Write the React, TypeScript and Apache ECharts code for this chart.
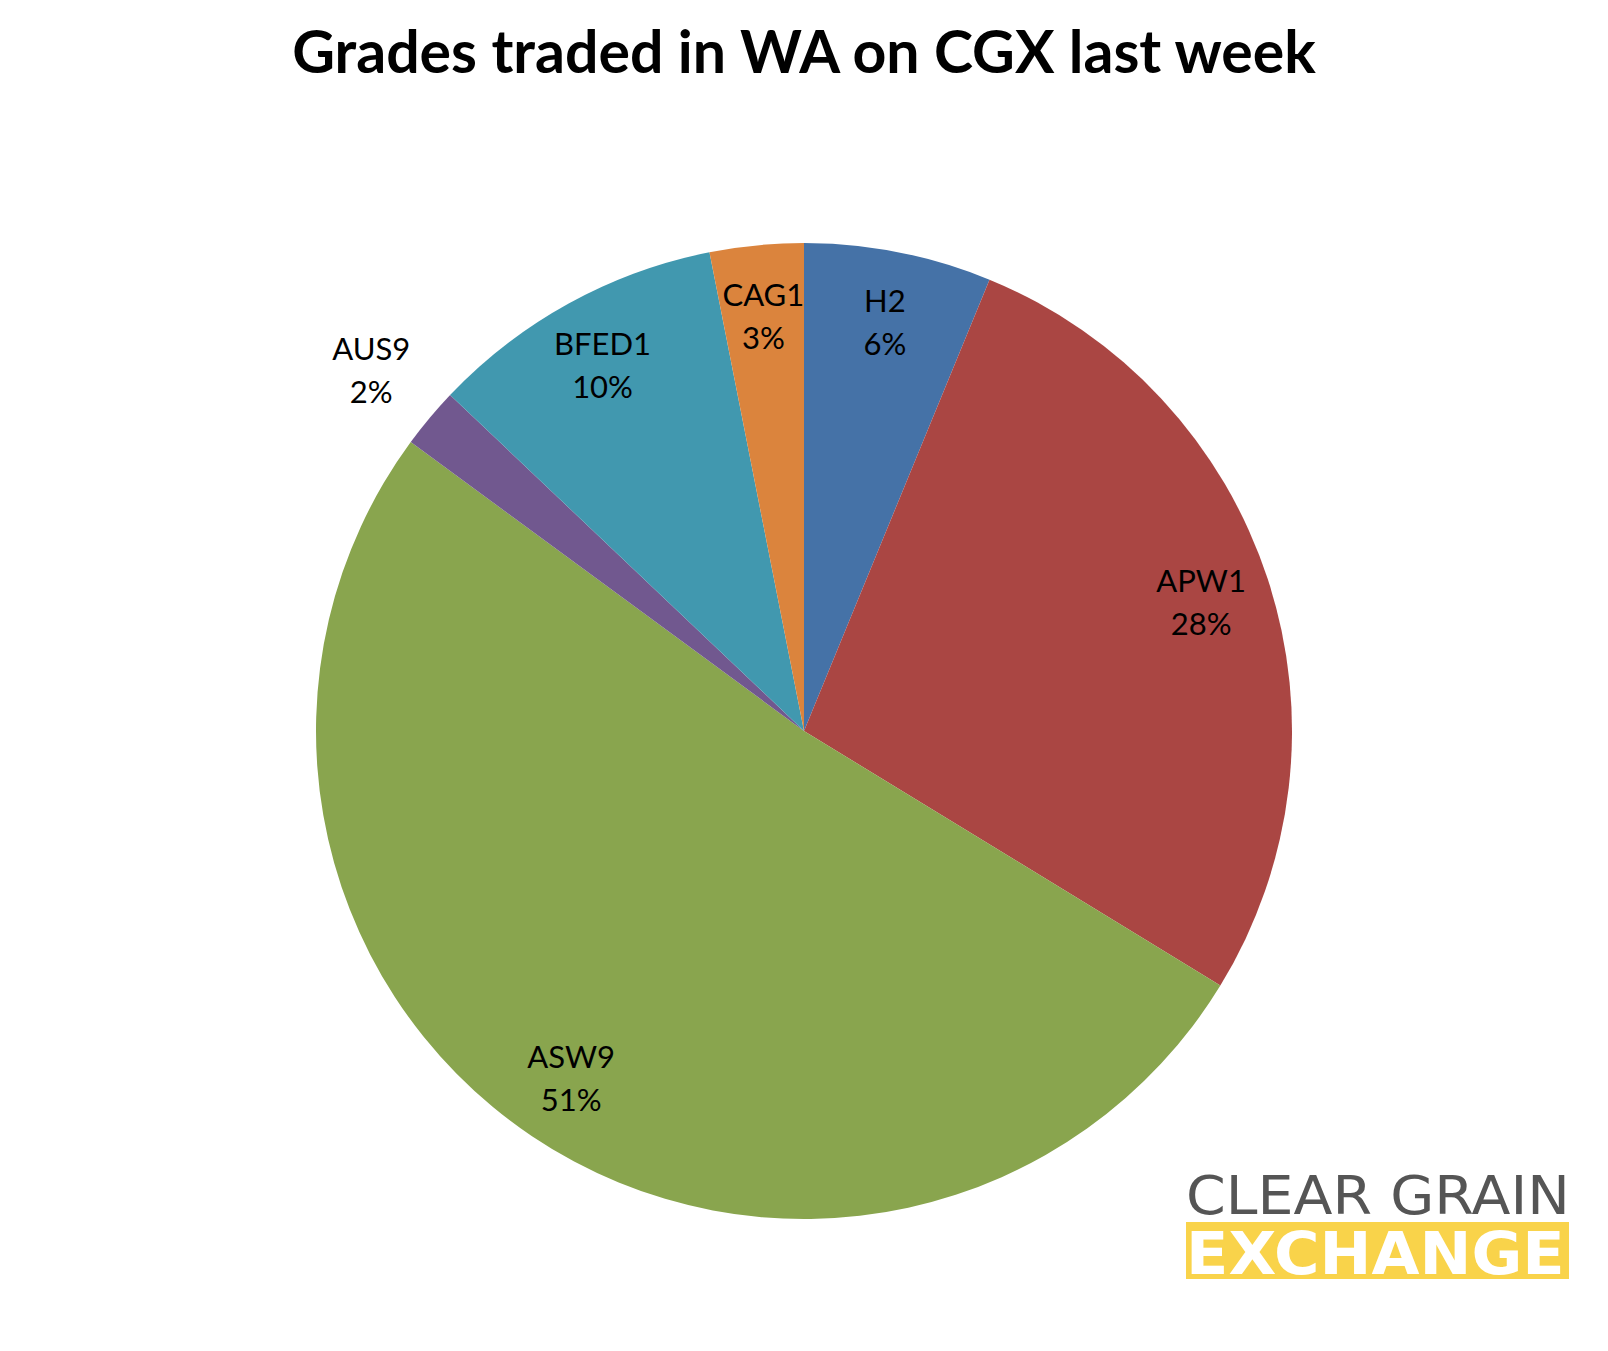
import React, { useEffect, useRef } from "react";
import * as echarts from "echarts";

const categories = ["H2", "APW1", "ASW9", "AUS9", "BFED1", "CAG1"];
const shares = [6.2, 27.5, 51.3, 2.0, 9.8, 3.1];
const colors = ["#4572A7", "#AA4643", "#89A54E", "#71588F", "#4198AF", "#DB843D"];
const outsideLabels = ["AUS9"];
const titleText = "Grades traded in WA on CGX last week";

const W = 1608;
const H = 1351;
const CX = 804;
const CY = 731;
const R = 488;

export default function App() {
  const ref = useRef<HTMLDivElement>(null);
  useEffect(() => {
    document.body.style.margin = "0";
    const chart = echarts.init(ref.current!, null, { renderer: "svg" });
    const baseData = categories.map((c, i) => ({
      name: c,
      value: shares[i],
      itemStyle: { color: colors[i] },
    }));
    const labelStyle = {
      color: "#000",
      fontFamily: "Lato, 'Noto Sans', sans-serif",
      fontSize: 31,
      lineHeight: 43,
      formatter: "{b}\n{d}%",
      align: "center" as const,
    };
    chart.setOption({
      animation: false,
      backgroundColor: "#ffffff",
      title: {
        text: titleText,
        left: "center",
        top: 16,
        textStyle: {
          fontFamily: "Lato, 'Noto Sans', sans-serif",
          fontWeight: "bold",
          fontSize: 59,
          color: "#000",
        },
      },
      series: [
        {
          type: "pie",
          center: [CX, CY],
          radius: [0, R],
          startAngle: 90,
          clockwise: true,
          silent: true,
          label: { show: false },
          labelLine: { show: false },
          itemStyle: { borderWidth: 0 },
          data: baseData,
        },
        {
          type: "pie",
          center: [CX, CY],
          radius: [0, R * 2 * 0.85],
          startAngle: 90,
          silent: true,
          percentPrecision: 0,
          itemStyle: { color: "rgba(0,0,0,0)", borderWidth: 0 },
          label: { show: true, position: "inside", ...labelStyle },
          labelLine: { show: false },
          data: categories.map((c, i) => ({
            name: c,
            value: shares[i],
            label: { show: !outsideLabels.includes(c) },
          })),
        },
        {
          type: "pie",
          center: [CX, CY],
          radius: [0, R * 2 * 1.15],
          startAngle: 90,
          silent: true,
          percentPrecision: 0,
          itemStyle: { color: "rgba(0,0,0,0)", borderWidth: 0 },
          label: { show: true, position: "inside", ...labelStyle },
          labelLine: { show: false },
          data: categories.map((c, i) => ({
            name: c,
            value: shares[i],
            label: { show: outsideLabels.includes(c) },
          })),
        },
      ],
      graphic: [
        {
          type: "rect",
          shape: { x: 1186, y: 1222, width: 383, height: 57 },
          style: { fill: "#F9D34A" },
        },
        {
          type: "text",
          x: 1186,
          y: 1196,
          scaleX: 1.075,
          style: {
            text: "CLEAR GRAIN",
            fill: "#555555",
            font: "normal 53px 'DejaVu Sans', sans-serif",
            verticalAlign: "middle",
            align: "left",
            lineHeight: 44,
          },
        },
        {
          type: "text",
          x: 1186,
          y: 1254,
          scaleX: 1.07,
          style: {
            text: "EXCHANGE",
            fill: "#ffffff",
            font: "bold 58px 'DejaVu Sans', sans-serif",
            verticalAlign: "middle",
            align: "left",
            lineHeight: 44,
          },
        },
      ],
    });
    return () => chart.dispose();
  }, []);
  return <div ref={ref} style={{ width: W, height: H }} />;
}
